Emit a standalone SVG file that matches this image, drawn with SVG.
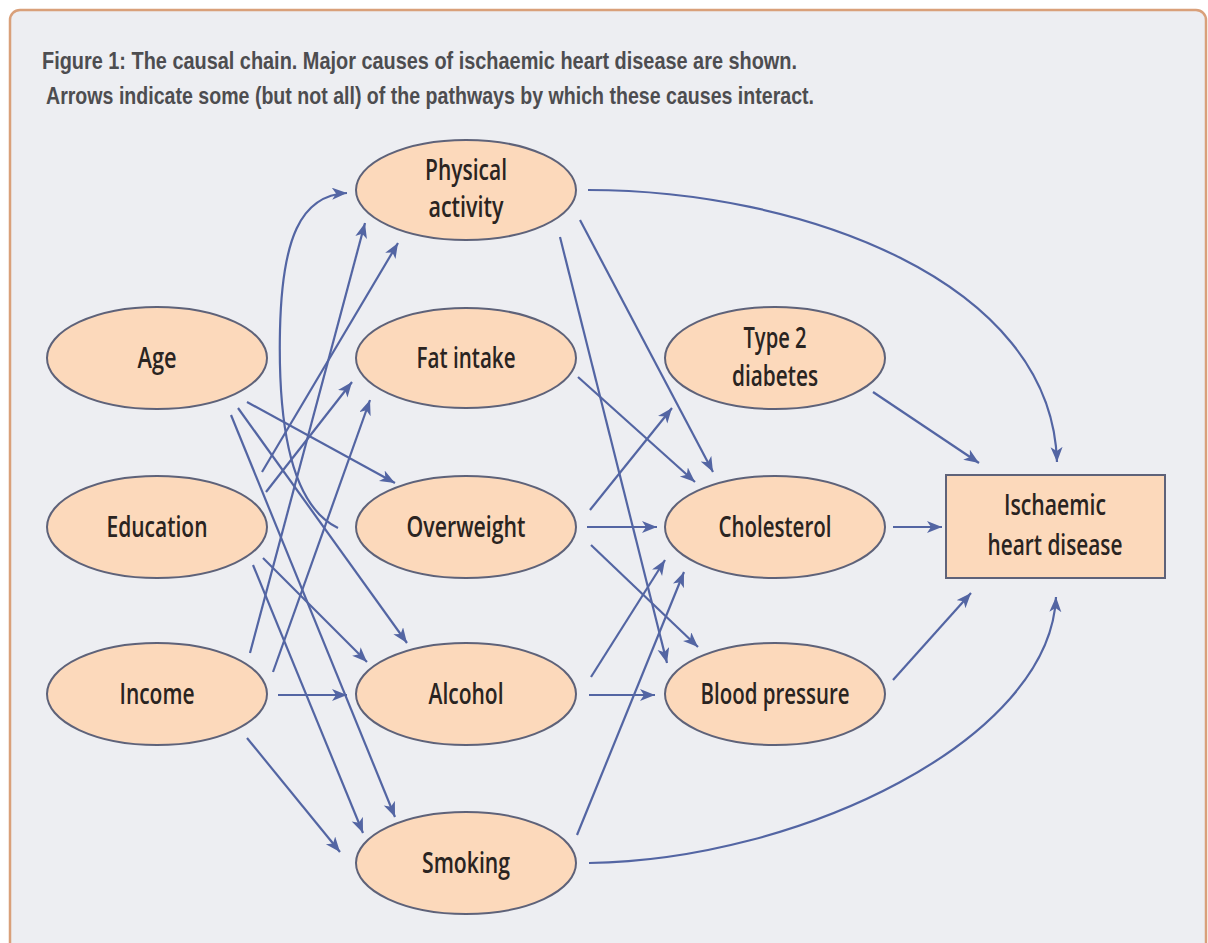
<svg xmlns="http://www.w3.org/2000/svg" width="1208" height="943" viewBox="0 0 1208 943">
<style>
.node ellipse,.node rect{fill:#fcd9bb;stroke:#5e6279;stroke-width:2}
.node text{font-family:"Open Sans","Liberation Sans",sans-serif;font-weight:600;font-size:28px;fill:#2a2421;text-anchor:middle}
.title{font-family:"Liberation Sans",Arial,sans-serif;font-weight:bold;font-size:24px;fill:#4d4d50}
#connectors path{fill:none;stroke:#5365a3;stroke-width:2.2;marker-end:url(#arr)}
</style>
<defs>
<marker id="arr" markerUnits="userSpaceOnUse" markerWidth="18" markerHeight="14" refX="15" refY="6" orient="auto">
<path d="M0,0 L15,6 L0,12 L4,6 z" fill="#5365a3"/>
</marker>
</defs>
<rect x="0" y="0" width="1208" height="943" fill="#ffffff"/>
<rect x="10" y="10" width="1196" height="960" rx="10" fill="#edeef2" stroke="#d9a07a" stroke-width="2.5"/>
<text class="title" x="42" y="69" textLength="755" lengthAdjust="spacingAndGlyphs">Figure 1: The causal chain. Major causes of ischaemic heart disease are shown.</text>
<text class="title" x="46" y="104" textLength="768" lengthAdjust="spacingAndGlyphs">Arrows indicate some (but not all) of the pathways by which these causes interact.</text>

<g id="connectors">
<path d="M247,402 L395,483"/>
<path d="M238,408 L407,643"/>
<path d="M231,415 L395,817"/>
<path d="M262,472 L398,243"/>
<path d="M266,492 L352,382"/>
<path d="M263,558 L367,662"/>
<path d="M253,565 L363,833"/>
<path d="M250,653 L365,223"/>
<path d="M273,672 L370,400"/>
<path d="M278,695 L347,695"/>
<path d="M247,738 L340,852"/>
<path d="M338,528 C290,505 278,420 280,330 C282,240 300,195 347,193"/>
<path d="M588,190 C800,190 1052,280 1057,462"/>
<path d="M580,220 L713,472"/>
<path d="M560,237 L667,663"/>
<path d="M578,377 L695,482"/>
<path d="M590,510 L672,408"/>
<path d="M587,527 L657,527"/>
<path d="M591,545 L698,647"/>
<path d="M591,677 L665,560"/>
<path d="M589,695 L655,695"/>
<path d="M577,835 L684,572"/>
<path d="M589,863 C800,860 1050,740 1056,597"/>
<path d="M873,392 L979,463"/>
<path d="M893,527 L942,527"/>
<path d="M893,680 L971,593"/>
</g>

<g id="age" class="node"><ellipse cx="157" cy="358" rx="110" ry="51"/><text x="157" y="368" textLength="39" lengthAdjust="spacingAndGlyphs">Age</text></g>
<g id="education" class="node"><ellipse cx="157" cy="527" rx="110" ry="51"/><text x="157" y="537" textLength="101" lengthAdjust="spacingAndGlyphs">Education</text></g>
<g id="income" class="node"><ellipse cx="157" cy="694" rx="110" ry="51"/><text x="157" y="704" textLength="75" lengthAdjust="spacingAndGlyphs">Income</text></g>

<g id="physical" class="node"><ellipse cx="466" cy="190" rx="110" ry="50"/><text x="466" y="180" textLength="82" lengthAdjust="spacingAndGlyphs">Physical</text><text x="466" y="217" textLength="75" lengthAdjust="spacingAndGlyphs">activity</text></g>
<g id="fat" class="node"><ellipse cx="466" cy="358" rx="110" ry="50"/><text x="466" y="368" textLength="99" lengthAdjust="spacingAndGlyphs">Fat intake</text></g>
<g id="overweight" class="node"><ellipse cx="466" cy="527" rx="110" ry="51"/><text x="466" y="537" textLength="119" lengthAdjust="spacingAndGlyphs">Overweight</text></g>
<g id="alcohol" class="node"><ellipse cx="466" cy="694" rx="110" ry="51"/><text x="466" y="704" textLength="75" lengthAdjust="spacingAndGlyphs">Alcohol</text></g>
<g id="smoking" class="node"><ellipse cx="466" cy="863" rx="110" ry="51"/><text x="466" y="873" textLength="88" lengthAdjust="spacingAndGlyphs">Smoking</text></g>

<g id="diabetes" class="node"><ellipse cx="775" cy="358" rx="110" ry="51"/><text x="775" y="348" textLength="63" lengthAdjust="spacingAndGlyphs">Type 2</text><text x="775" y="386" textLength="86" lengthAdjust="spacingAndGlyphs">diabetes</text></g>
<g id="cholesterol" class="node"><ellipse cx="775" cy="527" rx="110" ry="51"/><text x="775" y="537" textLength="113" lengthAdjust="spacingAndGlyphs">Cholesterol</text></g>
<g id="bloodpressure" class="node"><ellipse cx="775" cy="694" rx="110" ry="51"/><text x="775" y="704" textLength="149" lengthAdjust="spacingAndGlyphs">Blood pressure</text></g>

<g id="ihd" class="node"><rect x="946" y="475" width="219" height="103"/><text x="1055" y="515" textLength="102" lengthAdjust="spacingAndGlyphs">Ischaemic</text><text x="1055" y="555" textLength="135" lengthAdjust="spacingAndGlyphs">heart disease</text></g>
</svg>
